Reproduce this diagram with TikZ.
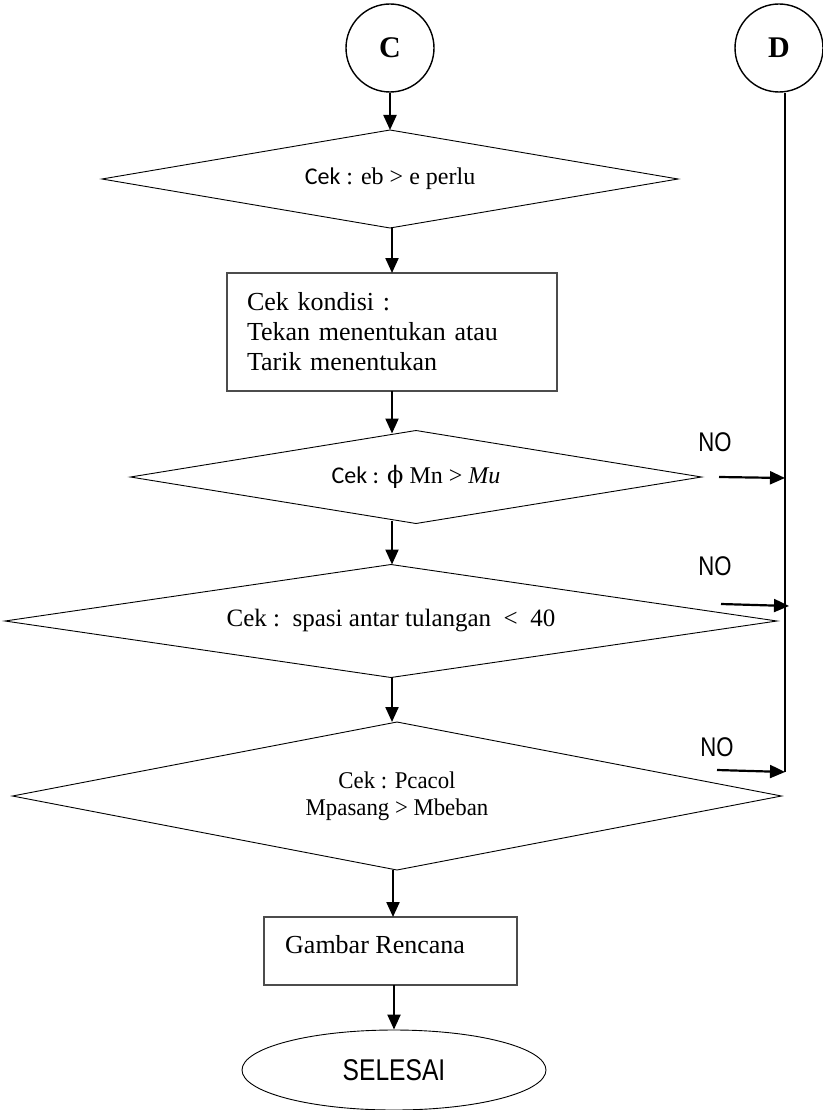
\documentclass[tikz,border=0pt]{standalone}
\usepackage{fontspec}
\setmainfont{Liberation Serif}
\newfontfamily\calib{Carlito}
\newfontfamily\arialn[FakeStretch=0.82]{Liberation Sans}
\newfontfamily\timesn[FakeStretch=0.95]{Liberation Serif}
\newfontfamily\dvs{DejaVu Serif}
\usetikzlibrary{shapes.geometric,arrows.meta}
\begin{document}
\begin{tikzpicture}[x=1pt,y=-1pt,
  conn/.style={circle,draw,line width=1.4pt,minimum size=88pt,inner sep=0pt,font=\fontsize{30}{34}\selectfont\bfseries},
  dec/.style={diamond,draw,line width=0.9pt,inner sep=0pt,outer sep=0pt,font=\fontsize{24}{27}\selectfont,align=center},
  proc/.style={rectangle,draw=black!70,line width=1.2pt,inner sep=0pt,outer sep=0pt},
  term/.style={ellipse,draw,line width=0.9pt,inner sep=0pt,font=\arialn\fontsize{30}{34}\selectfont},
  arr/.style={line width=2.2pt,-{Triangle[length=15pt,width=13pt]}},
  lbl/.style={font=\arialn\fontsize{27}{30}\selectfont,inner sep=0pt},
]
\useasboundingbox (0,0) rectangle (822,1110);
\node[conn] (C) at (390,48) {C};
\node[conn] (D) at (779,48) {D};
\node[dec,minimum width=576pt,minimum height=98pt,aspect=5.88] (d1) at (390,179) {{\calib Cek} : eb > e perlu};
\node[proc,minimum width=330pt,minimum height=118pt,text width=290pt,align=left,font=\fontsize{26}{30}\selectfont] (r1) at (392,332) {Cek kondisi :\\Tekan menentukan atau\\Tarik menentukan};
\node[dec,minimum width=571pt,minimum height=93pt,aspect=6.14] (d2) at (416,477) {{\calib Cek :} {\dvs ϕ} Mn > \textit{Mu}};
\node[dec,minimum width=772pt,minimum height=113pt,aspect=6.83,font=\fontsize{25}{28}\selectfont] (d3) at (391,621) {Cek :\ \ spasi antar tulangan\ \ <\ \ 40};
\node[dec,minimum width=769pt,minimum height=148pt,aspect=5.2,font=\timesn\fontsize{24}{27}\selectfont] (d4) at (397,796) {Cek : Pcacol\\Mpasang > Mbeban};
\node[proc,minimum width=253pt,minimum height=68pt] (r2) at (390.5,951) {};
\node[anchor=base west,font=\fontsize{26}{30}\selectfont,inner sep=0pt] (r2t) at (285,953) {Gambar Rencana};
\node[term,minimum width=304pt,minimum height=80pt] (E) at (394,1070) {SELESAI};
\node[lbl] (no1) at (715,442) {NO};
\node[lbl] (no2) at (715,566) {NO};
\node[lbl] (no3) at (717,747) {NO};
\coordinate (n1a) at (719,477);
\coordinate (n1b) at (785,478);
\coordinate (n2a) at (721,604);
\coordinate (n2b) at (789,606);
\coordinate (n3a) at (717,770);
\coordinate (n3b) at (785,772);
\coordinate (dend) at (785,772);
\draw[line width=1.5pt] ([xshift=6pt]D.south) -- (dend);
\draw[arr] (C.south) -- (d1.north);
\draw[arr] ([yshift=1pt]r1.north |- d1.south) -- (r1.north);
\draw[arr] (r1.south) -- ([yshift=-3pt]r1.south |- d2.north);
\draw[arr] ([yshift=3pt]r1.south |- d2.south) -- (r1.south |- d3.north);
\draw[arr] ([yshift=1pt]r1.south |- d3.south) -- (r1.south |- d4.north);
\draw[arr] ([xshift=-4pt]d4.south) -- ([xshift=-4pt]d4.south |- r2.north);
\draw[arr] (r2.south -| E.north) -- (E.north);
\draw[arr] (n1a) -- (n1b);
\draw[arr] (n2a) -- (n2b);
\draw[arr] (n3a) -- (n3b);
\end{tikzpicture}
\end{document}
